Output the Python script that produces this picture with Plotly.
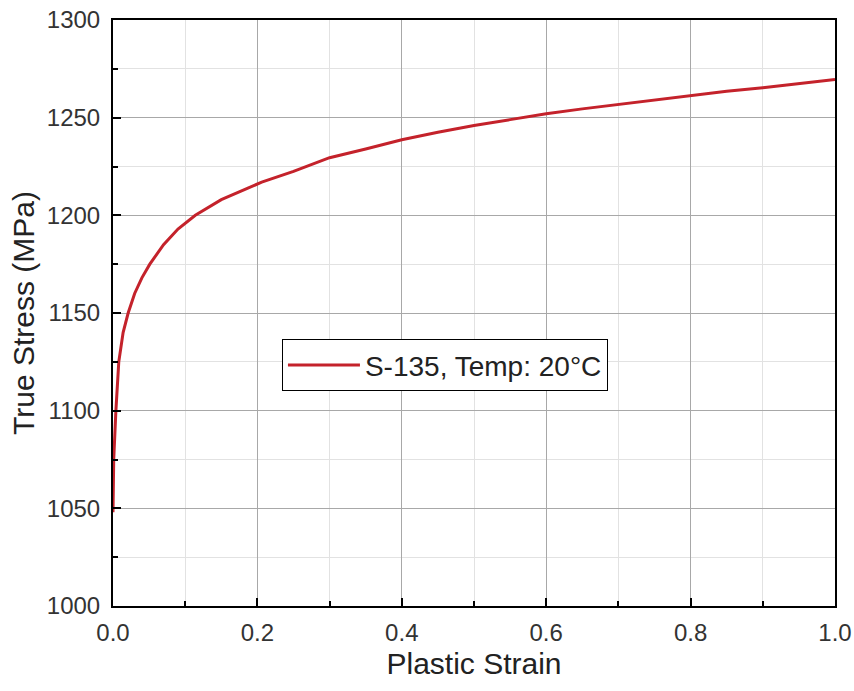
import plotly.graph_objects as go

# Flow curve of S-135 drill pipe steel at 20 °C
plastic_strain = [0.0, 0.001, 0.004, 0.008, 0.014, 0.021, 0.030, 0.040, 0.051,
                  0.070, 0.090, 0.114, 0.150, 0.190, 0.206, 0.250, 0.300, 0.350,
                  0.400, 0.450, 0.500, 0.550, 0.600, 0.650, 0.700, 0.750, 0.800,
                  0.850, 0.900, 0.950, 1.000]
true_stress = [1048, 1075, 1100, 1125, 1140, 1150, 1160, 1168, 1175,
               1185, 1193, 1200, 1208, 1214.5, 1217, 1222.5, 1229.5, 1234,
               1238.7, 1242.5, 1246, 1249, 1252, 1254.5, 1256.8, 1259, 1261.5,
               1263.5, 1265.3, 1267.5, 1269.5]
series_name = "S-135, Temp: 20°C"

x_ticks = [0.0, 0.2, 0.4, 0.6, 0.8, 1.0]
x_tick_labels = ["0.0", "0.2", "0.4", "0.6", "0.8", "1.0"]
y_ticks = [1000, 1050, 1100, 1150, 1200, 1250, 1300]

FONT = "Liberation Sans, Arial, sans-serif"

fig = go.Figure()
fig.add_trace(go.Scatter(
    x=plastic_strain, y=true_stress, mode="lines", name=series_name,
    line=dict(color="#c4222b", width=3),
    showlegend=True,
))

axis_common = dict(
    showline=True, linecolor="black", linewidth=2, mirror=True,
    ticks="inside", ticklen=8, tickwidth=2, tickcolor="black",
    showgrid=True, gridcolor="#a8a8a8", gridwidth=1,
    zeroline=False, automargin=False,
    tickfont=dict(family=FONT, size=24, color="#333333"),
)

fig.update_xaxes(
    range=[0, 1], tickvals=x_ticks, ticktext=x_tick_labels,
    minor=dict(dtick=0.1, ticks="inside", ticklen=5, tickwidth=2,
               tickcolor="black", showgrid=True, gridcolor="#e2e2e2",
               gridwidth=1),
    title=dict(text="Plastic Strain", font=dict(family=FONT, size=30, color="#222222"),
               standoff=8),
    ticklabelstandoff=4,
    **axis_common,
)
fig.update_yaxes(
    range=[1000, 1300], tickvals=y_ticks,
    minor=dict(dtick=25, ticks="inside", ticklen=5, tickwidth=2,
               tickcolor="black", showgrid=True, gridcolor="#e2e2e2",
               gridwidth=1),
    title=dict(text="True Stress (MPa)", font=dict(family=FONT, size=30, color="#222222"),
               standoff=3),
    ticklabelstandoff=6,
    **axis_common,
)

fig.update_layout(
    width=854, height=691,
    margin=dict(l=113, r=19, t=20, b=85),
    paper_bgcolor="white", plot_bgcolor="white",
    legend=dict(
        x=0.234, y=0.455, xanchor="left", yanchor="top",
        bgcolor="white", bordercolor="black", borderwidth=1,
        font=dict(family=FONT, size=28, color="#222222"),
        itemwidth=72, tracegroupgap=0,
    ),
)

fig.write_html("out.html")
